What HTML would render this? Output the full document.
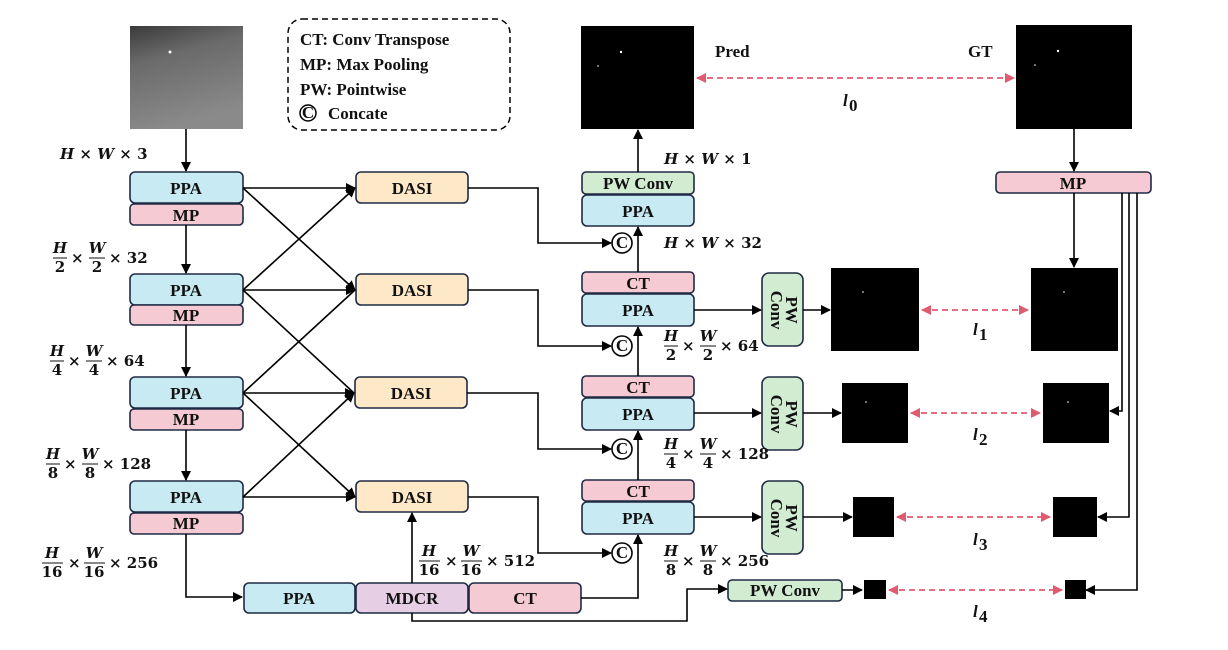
<!DOCTYPE html>
<html><head><meta charset="utf-8"><style>
html,body{margin:0;padding:0;background:#fff;}
svg{display:block;}
.b{font-family:"Liberation Serif",serif;font-weight:bold;font-size:17px;fill:#111;}
.m{font-family:"DejaVu Serif","Liberation Serif",serif;font-weight:bold;font-size:15px;fill:#111;}
.mi{font-style:italic;}
.box{stroke:#1f2a44;stroke-width:1.6;}
.ln{stroke:#000;stroke-width:1.6;fill:none;}
</style></head><body>
<svg width="1228" height="650" viewBox="0 0 1228 650" xmlns="http://www.w3.org/2000/svg">
<defs>
<marker id="a" markerWidth="10" markerHeight="10" refX="9" refY="5" orient="auto" markerUnits="userSpaceOnUse"><path d="M0,0 L10,5 L0,10 z" fill="#000"/></marker>
<marker id="r" markerWidth="10" markerHeight="10" refX="9" refY="5" orient="auto-start-reverse" markerUnits="userSpaceOnUse"><path d="M0,0 L10,5 L0,10 z" fill="#e05a70"/></marker>
<linearGradient id="g" x1="0" y1="0" x2="0.3" y2="1"><stop offset="0" stop-color="#3a3a3a"/><stop offset="0.35" stop-color="#6a6a6a"/><stop offset="1" stop-color="#8a8a8a"/></linearGradient>
</defs>

<rect x="130" y="26" width="113" height="103" fill="url(#g)"/>
<circle cx="170" cy="52" r="1.5" fill="#fff"/>

<rect x="288" y="19" width="222" height="111" rx="14" fill="none" stroke="#000" stroke-width="1.5" stroke-dasharray="6,4"/>
<text class="b" x="300" y="45">CT: Conv Transpose</text>
<text class="b" x="300" y="70">MP: Max Pooling</text>
<text class="b" x="300" y="95">PW: Pointwise</text>
<circle cx="308" cy="113" r="8" fill="none" stroke="#000" stroke-width="1.5"/>
<text class="b" x="308" y="118" text-anchor="middle" font-size="13">C</text>
<text class="b" x="328" y="119">Concate</text>

<line class="ln" x1="186" y1="129" x2="186" y2="171" marker-end="url(#a)"/>
<g>
<rect class="box" x="130" y="172" width="113" height="31" rx="5" fill="#c8eaf2"/><text class="b" x="186" y="194" text-anchor="middle">PPA</text>
<rect class="box" x="130" y="204" width="113" height="21" rx="4" fill="#f5cad2"/><text class="b" x="186" y="221" text-anchor="middle">MP</text>
<rect class="box" x="130" y="274" width="113" height="31" rx="5" fill="#c8eaf2"/><text class="b" x="186" y="296" text-anchor="middle">PPA</text>
<rect class="box" x="130" y="305" width="113" height="20" rx="4" fill="#f5cad2"/><text class="b" x="186" y="321" text-anchor="middle">MP</text>
<rect class="box" x="130" y="377" width="113" height="31" rx="5" fill="#c8eaf2"/><text class="b" x="186" y="399" text-anchor="middle">PPA</text>
<rect class="box" x="130" y="409" width="113" height="21" rx="4" fill="#f5cad2"/><text class="b" x="186" y="425" text-anchor="middle">MP</text>
<rect class="box" x="130" y="481" width="113" height="31" rx="5" fill="#c8eaf2"/><text class="b" x="186" y="503" text-anchor="middle">PPA</text>
<rect class="box" x="130" y="513" width="113" height="21" rx="4" fill="#f5cad2"/><text class="b" x="186" y="529" text-anchor="middle">MP</text>
</g>
<line class="ln" x1="186" y1="225" x2="186" y2="273" marker-end="url(#a)"/>
<line class="ln" x1="186" y1="325" x2="186" y2="376" marker-end="url(#a)"/>
<line class="ln" x1="186" y1="430" x2="186" y2="480" marker-end="url(#a)"/>
<polyline class="ln" points="186,534 186,597 242,597" marker-end="url(#a)"/>

<rect class="box" x="356" y="172" width="112" height="31" rx="5" fill="#fde8c8"/><text class="b" x="412" y="194" text-anchor="middle">DASI</text>
<rect class="box" x="356" y="274" width="112" height="31" rx="5" fill="#fde8c8"/><text class="b" x="412" y="296" text-anchor="middle">DASI</text>
<rect class="box" x="355" y="377" width="112" height="31" rx="5" fill="#fde8c8"/><text class="b" x="411" y="399" text-anchor="middle">DASI</text>
<rect class="box" x="356" y="481" width="112" height="31" rx="5" fill="#fde8c8"/><text class="b" x="412" y="503" text-anchor="middle">DASI</text>

<line class="ln" x1="243" y1="188" x2="355" y2="188" marker-end="url(#a)"/>
<line class="ln" x1="243" y1="188" x2="355" y2="290" marker-end="url(#a)"/>
<line class="ln" x1="243" y1="290" x2="355" y2="188" marker-end="url(#a)"/>
<line class="ln" x1="243" y1="290" x2="355" y2="290" marker-end="url(#a)"/>
<line class="ln" x1="243" y1="290" x2="354" y2="393"/>
<line class="ln" x1="243" y1="393" x2="355" y2="290"/>
<line class="ln" x1="243" y1="393" x2="354" y2="393" marker-end="url(#a)"/>
<line class="ln" x1="243" y1="393" x2="355" y2="497" marker-end="url(#a)"/>
<line class="ln" x1="243" y1="497" x2="354" y2="393" marker-end="url(#a)"/>
<line class="ln" x1="243" y1="497" x2="355" y2="497" marker-end="url(#a)"/>

<rect class="box" x="244" y="583" width="111" height="30" rx="5" fill="#c8eaf2"/><text class="b" x="299" y="604" text-anchor="middle">PPA</text>
<rect class="box" x="356" y="583" width="112" height="30" rx="5" fill="#e6cfe4"/><text class="b" x="412" y="604" text-anchor="middle">MDCR</text>
<rect class="box" x="469" y="583" width="112" height="30" rx="5" fill="#f5cad2"/><text class="b" x="525" y="604" text-anchor="middle">CT</text>
<line class="ln" x1="412" y1="583" x2="412" y2="513" marker-end="url(#a)"/>
<polyline class="ln" points="412,613 412,621 687,621 687,589 727,589" marker-end="url(#a)"/>
<polyline class="ln" points="581,598 638,598 638,535" marker-end="url(#a)"/>

<polyline class="ln" points="468,188 538,188 538,243 611,243" marker-end="url(#a)"/>
<polyline class="ln" points="468,290 538,290 538,346 611,346" marker-end="url(#a)"/>
<polyline class="ln" points="467,393 538,393 538,449 611,449" marker-end="url(#a)"/>
<polyline class="ln" points="468,497 538,497 538,553 611,553" marker-end="url(#a)"/>
<g fill="#fff" stroke="#000" stroke-width="1.6">
<circle cx="622" cy="243" r="10"/><circle cx="622" cy="346" r="10"/><circle cx="622" cy="449" r="10"/><circle cx="622" cy="553" r="10"/>
</g>
<g class="b" font-size="15" text-anchor="middle">
<text x="622" y="248">C</text><text x="622" y="351">C</text><text x="622" y="454">C</text><text x="622" y="558">C</text>
</g>

<rect class="box" x="582" y="172" width="112" height="22" rx="4" fill="#d2ecd2"/><text class="b" x="638" y="189" text-anchor="middle" font-size="15">PW Conv</text>
<rect class="box" x="582" y="195" width="112" height="31" rx="5" fill="#c8eaf2"/><text class="b" x="638" y="217" text-anchor="middle">PPA</text>
<rect class="box" x="582" y="272" width="112" height="21" rx="4" fill="#f5cad2"/><text class="b" x="638" y="289" text-anchor="middle">CT</text>
<rect class="box" x="582" y="294" width="112" height="32" rx="5" fill="#c8eaf2"/><text class="b" x="638" y="316" text-anchor="middle">PPA</text>
<rect class="box" x="582" y="376" width="112" height="21" rx="4" fill="#f5cad2"/><text class="b" x="638" y="393" text-anchor="middle">CT</text>
<rect class="box" x="582" y="398" width="112" height="32" rx="5" fill="#c8eaf2"/><text class="b" x="638" y="420" text-anchor="middle">PPA</text>
<rect class="box" x="582" y="480" width="112" height="21" rx="4" fill="#f5cad2"/><text class="b" x="638" y="497" text-anchor="middle">CT</text>
<rect class="box" x="582" y="502" width="112" height="32" rx="5" fill="#c8eaf2"/><text class="b" x="638" y="524" text-anchor="middle">PPA</text>
<line class="ln" x1="638" y1="480" x2="638" y2="431" marker-end="url(#a)"/>
<line class="ln" x1="638" y1="376" x2="638" y2="327" marker-end="url(#a)"/>
<line class="ln" x1="638" y1="272" x2="638" y2="227" marker-end="url(#a)"/>
<line class="ln" x1="638" y1="172" x2="638" y2="130" marker-end="url(#a)"/>

<rect x="581" y="26" width="113" height="103" fill="#000"/>
<circle cx="621" cy="52" r="1.2" fill="#fff"/><circle cx="598" cy="66" r="0.8" fill="#fff"/>
<rect x="1016" y="25" width="116" height="104" fill="#000"/>
<circle cx="1058" cy="51" r="1.2" fill="#fff"/><circle cx="1035" cy="65" r="0.8" fill="#fff"/>
<text class="b" x="715" y="57">Pred</text>
<text class="b" x="968" y="57">GT</text>
<line x1="697" y1="78" x2="1014" y2="78" stroke="#e05a70" stroke-width="1.8" stroke-dasharray="6,4" marker-start="url(#r)" marker-end="url(#r)"/>
<text class="b mi" x="843" y="106" font-size="18">l</text><text class="b" x="849" y="111" font-size="12">0</text>

<line class="ln" x1="1074" y1="129" x2="1074" y2="171" marker-end="url(#a)"/>
<rect class="box" x="996" y="172" width="155" height="21" rx="4" fill="#f5cad2"/><text class="b" x="1073" y="189" text-anchor="middle">MP</text>
<line class="ln" x1="1074" y1="193" x2="1074" y2="267" marker-end="url(#a)"/>
<polyline class="ln" points="1122,193 1122,411 1110,411" marker-end="url(#a)"/>
<polyline class="ln" points="1129,193 1129,517 1098,517" marker-end="url(#a)"/>
<polyline class="ln" points="1137,193 1137,590 1086,590" marker-end="url(#a)"/>

<g>
<rect class="box" x="762" y="273" width="41" height="73" rx="7" fill="#d2ecd2"/>
<rect class="box" x="762" y="377" width="41" height="73" rx="7" fill="#d2ecd2"/>
<rect class="box" x="762" y="481" width="41" height="73" rx="7" fill="#d2ecd2"/>
<text class="b" font-size="15" transform="translate(786,310) rotate(90)" text-anchor="middle">PW</text>
<text class="b" font-size="15" transform="translate(771,310) rotate(90)" text-anchor="middle">Conv</text>
<text class="b" font-size="15" transform="translate(786,414) rotate(90)" text-anchor="middle">PW</text>
<text class="b" font-size="15" transform="translate(771,414) rotate(90)" text-anchor="middle">Conv</text>
<text class="b" font-size="15" transform="translate(786,518) rotate(90)" text-anchor="middle">PW</text>
<text class="b" font-size="15" transform="translate(771,518) rotate(90)" text-anchor="middle">Conv</text>
</g>
<line class="ln" x1="694" y1="310" x2="761" y2="310" marker-end="url(#a)"/>
<line class="ln" x1="694" y1="413" x2="761" y2="413" marker-end="url(#a)"/>
<line class="ln" x1="694" y1="517" x2="761" y2="517" marker-end="url(#a)"/>
<line class="ln" x1="803" y1="310" x2="830" y2="310" marker-end="url(#a)"/>
<line class="ln" x1="803" y1="413" x2="841" y2="413" marker-end="url(#a)"/>
<line class="ln" x1="803" y1="517" x2="852" y2="517" marker-end="url(#a)"/>
<rect class="box" x="728" y="580" width="114" height="21" rx="4" fill="#d2ecd2"/><text class="b" x="785" y="596" text-anchor="middle" font-size="15">PW Conv</text>
<line class="ln" x1="842" y1="590" x2="862" y2="590" marker-end="url(#a)"/>

<rect x="831" y="268" width="88" height="83" fill="#000"/>
<rect x="1031" y="268" width="87" height="83" fill="#000"/>
<circle cx="863" cy="292" r="0.8" fill="#fff"/><circle cx="1064" cy="292" r="0.8" fill="#fff"/>
<rect x="842" y="383" width="66" height="60" fill="#000"/>
<rect x="1043" y="383" width="66" height="60" fill="#000"/>
<circle cx="866" cy="402" r="0.8" fill="#fff"/><circle cx="1068" cy="402" r="0.8" fill="#fff"/>
<rect x="853" y="497" width="41" height="40" fill="#000"/>
<rect x="1053" y="497" width="44" height="40" fill="#000"/>
<rect x="864" y="580" width="22" height="19" fill="#000"/>
<rect x="1065" y="580" width="21" height="19" fill="#000"/>

<g stroke="#e05a70" stroke-width="1.8" stroke-dasharray="6,4">
<line x1="922" y1="310" x2="1028" y2="310" marker-start="url(#r)" marker-end="url(#r)"/>
<line x1="911" y1="413" x2="1040" y2="413" marker-start="url(#r)" marker-end="url(#r)"/>
<line x1="897" y1="517" x2="1050" y2="517" marker-start="url(#r)" marker-end="url(#r)"/>
<line x1="889" y1="590" x2="1062" y2="590" marker-start="url(#r)" marker-end="url(#r)"/>
</g>
<g class="b mi" font-size="18">
<text x="973" y="335">l</text><text x="973" y="440">l</text><text x="973" y="545">l</text><text x="973" y="617">l</text>
</g>
<g class="b" font-size="12">
<text x="979" y="340">1</text><text x="979" y="445">2</text><text x="979" y="550">3</text><text x="979" y="622">4</text>
</g>

<text class="m" x="60" y="159"><tspan class="mi">H</tspan> × <tspan class="mi">W</tspan> × 3</text>
<text class="m" x="664" y="164"><tspan class="mi">H</tspan> × <tspan class="mi">W</tspan> × 1</text>
<text class="m" x="664" y="248"><tspan class="mi">H</tspan> × <tspan class="mi">W</tspan> × 32</text>

<g class="m">
<g transform="translate(53,258)">
<text x="7" y="-5" text-anchor="middle" class="mi">H</text><line x1="0" y1="0" x2="14" y2="0" stroke="#111" stroke-width="1"/><text x="7" y="14" text-anchor="middle">2</text>
<text x="18" y="5">×</text>
<text x="44" y="-5" text-anchor="middle" class="mi">W</text><line x1="36" y1="0" x2="52" y2="0" stroke="#111" stroke-width="1"/><text x="44" y="14" text-anchor="middle">2</text>
<text x="56" y="5">× 32</text>
</g>
<g transform="translate(50,361)">
<text x="7" y="-5" text-anchor="middle" class="mi">H</text><line x1="0" y1="0" x2="14" y2="0" stroke="#111" stroke-width="1"/><text x="7" y="14" text-anchor="middle">4</text>
<text x="18" y="5">×</text>
<text x="44" y="-5" text-anchor="middle" class="mi">W</text><line x1="36" y1="0" x2="52" y2="0" stroke="#111" stroke-width="1"/><text x="44" y="14" text-anchor="middle">4</text>
<text x="56" y="5">× 64</text>
</g>
<g transform="translate(46,464)">
<text x="7" y="-5" text-anchor="middle" class="mi">H</text><line x1="0" y1="0" x2="14" y2="0" stroke="#111" stroke-width="1"/><text x="7" y="14" text-anchor="middle">8</text>
<text x="18" y="5">×</text>
<text x="44" y="-5" text-anchor="middle" class="mi">W</text><line x1="36" y1="0" x2="52" y2="0" stroke="#111" stroke-width="1"/><text x="44" y="14" text-anchor="middle">8</text>
<text x="56" y="5">× 128</text>
</g>
<g transform="translate(42,563)">
<text x="10" y="-5" text-anchor="middle" class="mi">H</text><line x1="0" y1="0" x2="21" y2="0" stroke="#111" stroke-width="1"/><text x="10" y="14" text-anchor="middle">16</text>
<text x="26" y="5">×</text>
<text x="52" y="-5" text-anchor="middle" class="mi">W</text><line x1="42" y1="0" x2="63" y2="0" stroke="#111" stroke-width="1"/><text x="52" y="14" text-anchor="middle">16</text>
<text x="67" y="5">× 256</text>
</g>
<g transform="translate(419,561)">
<text x="10" y="-5" text-anchor="middle" class="mi">H</text><line x1="0" y1="0" x2="21" y2="0" stroke="#111" stroke-width="1"/><text x="10" y="14" text-anchor="middle">16</text>
<text x="26" y="5">×</text>
<text x="52" y="-5" text-anchor="middle" class="mi">W</text><line x1="42" y1="0" x2="63" y2="0" stroke="#111" stroke-width="1"/><text x="52" y="14" text-anchor="middle">16</text>
<text x="67" y="5">× 512</text>
</g>
<g transform="translate(664,346)">
<text x="7" y="-5" text-anchor="middle" class="mi">H</text><line x1="0" y1="0" x2="14" y2="0" stroke="#111" stroke-width="1"/><text x="7" y="14" text-anchor="middle">2</text>
<text x="18" y="5">×</text>
<text x="44" y="-5" text-anchor="middle" class="mi">W</text><line x1="36" y1="0" x2="52" y2="0" stroke="#111" stroke-width="1"/><text x="44" y="14" text-anchor="middle">2</text>
<text x="56" y="5">× 64</text>
</g>
<g transform="translate(664,454)">
<text x="7" y="-5" text-anchor="middle" class="mi">H</text><line x1="0" y1="0" x2="14" y2="0" stroke="#111" stroke-width="1"/><text x="7" y="14" text-anchor="middle">4</text>
<text x="18" y="5">×</text>
<text x="44" y="-5" text-anchor="middle" class="mi">W</text><line x1="36" y1="0" x2="52" y2="0" stroke="#111" stroke-width="1"/><text x="44" y="14" text-anchor="middle">4</text>
<text x="56" y="5">× 128</text>
</g>
<g transform="translate(664,561)">
<text x="7" y="-5" text-anchor="middle" class="mi">H</text><line x1="0" y1="0" x2="14" y2="0" stroke="#111" stroke-width="1"/><text x="7" y="14" text-anchor="middle">8</text>
<text x="18" y="5">×</text>
<text x="44" y="-5" text-anchor="middle" class="mi">W</text><line x1="36" y1="0" x2="52" y2="0" stroke="#111" stroke-width="1"/><text x="44" y="14" text-anchor="middle">8</text>
<text x="56" y="5">× 256</text>
</g>
</g>
</svg>
</body></html>
